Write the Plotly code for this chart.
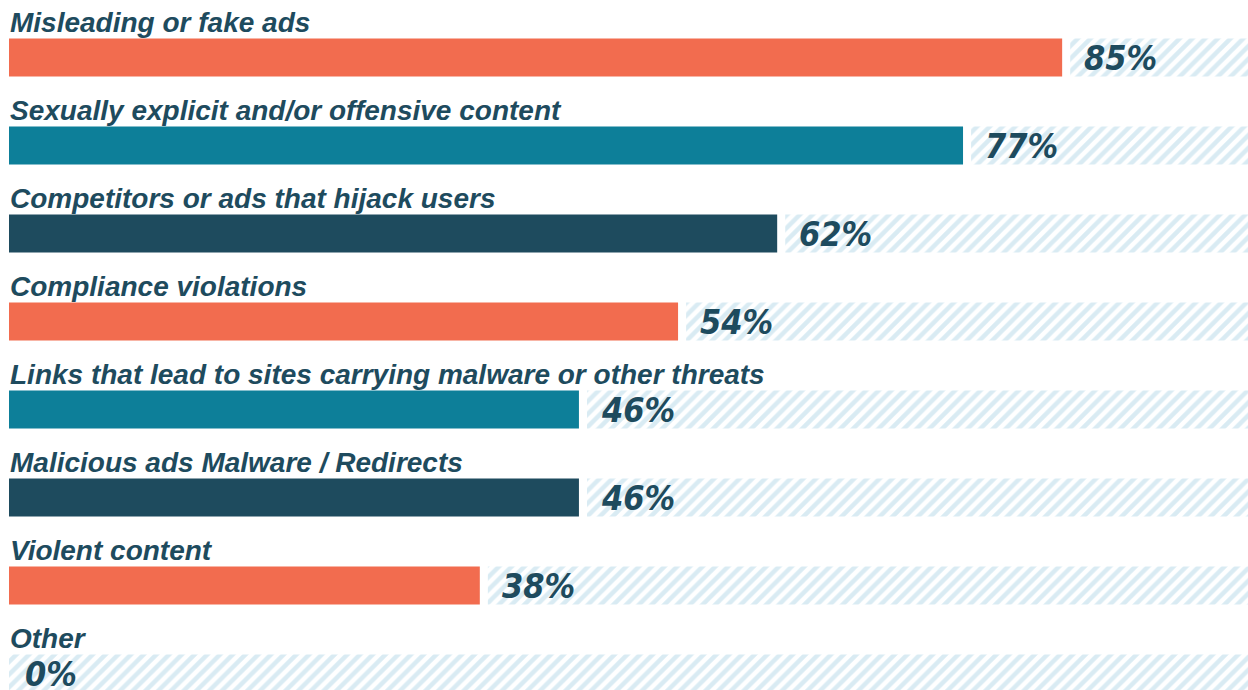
import plotly.graph_objects as go

categories = [
    "Misleading or fake ads",
    "Sexually explicit and/or offensive content",
    "Competitors or ads that hijack users",
    "Compliance violations",
    "Links that lead to sites carrying malware or other threats",
    "Malicious ads Malware / Redirects",
    "Violent content",
    "Other",
]
values = [85, 77, 62, 54, 46, 46, 38, 0]
pct_labels = ["85%", "77%", "62%", "54%", "46%", "46%", "38%", "0%"]

ORANGE = "#F26C4F"
TEAL = "#0D7F99"
DARK = "#1E4B5E"
HATCH = "#B3D8E8"
palette = [ORANGE, TEAL, DARK]
bar_colors = [palette[i % 3] for i in range(len(categories))]

GAP = 0.65  # gap between value bar and hatched remainder (axis units)
TOTAL = 100

fig = go.Figure()
# hatched remainder
fig.add_trace(go.Bar(
    y=categories,
    x=[TOTAL - v - (GAP if v > 0 else 0) for v in values],
    base=[v + (GAP if v > 0 else 0) for v in values],
    orientation="h",
    width=0.43,
    marker=dict(color="white", line=dict(width=0),
                pattern=dict(shape="/", fgcolor=HATCH, bgcolor="white",
                             size=9, solidity=0.5)),
    hoverinfo="skip",
    showlegend=False,
))
# value bars
fig.add_trace(go.Bar(
    y=categories,
    x=values,
    orientation="h",
    width=0.43,
    marker=dict(color=bar_colors, line=dict(width=0)),
    showlegend=False,
))

annotations = []
for cat, v, lab in zip(categories, values, pct_labels):
    annotations.append(dict(
        x=0, y=cat, xref="x", yref="y", text=cat, showarrow=False,
        xanchor="left", yanchor="middle", xshift=-1, yshift=35,
        font=dict(family="Liberation Sans, Arial, sans-serif", size=28,
                  color=DARK, weight="bold", style="italic"),
    ))
    annotations.append(dict(
        x=v, y=cat, xref="x", yref="y", text=lab, showarrow=False,
        xanchor="left", yanchor="middle",
        xshift=(20 if v > 0 else 14), yshift=-1,
        font=dict(family="DejaVu Sans Condensed, DejaVu Sans, sans-serif",
                  size=34, color=DARK, weight="bold", style="italic"),
    ))

fig.update_layout(
    width=1248, height=690,
    margin=dict(l=9, r=0, t=0, b=0),
    paper_bgcolor="white", plot_bgcolor="white",
    barmode="overlay",
    annotations=annotations,
    xaxis=dict(range=[0, TOTAL], visible=False, fixedrange=True),
    yaxis=dict(type="category", categoryorder="array", categoryarray=categories,
               range=[7.188, -0.653], visible=False, fixedrange=True),
)

fig.write_html("out.html")
